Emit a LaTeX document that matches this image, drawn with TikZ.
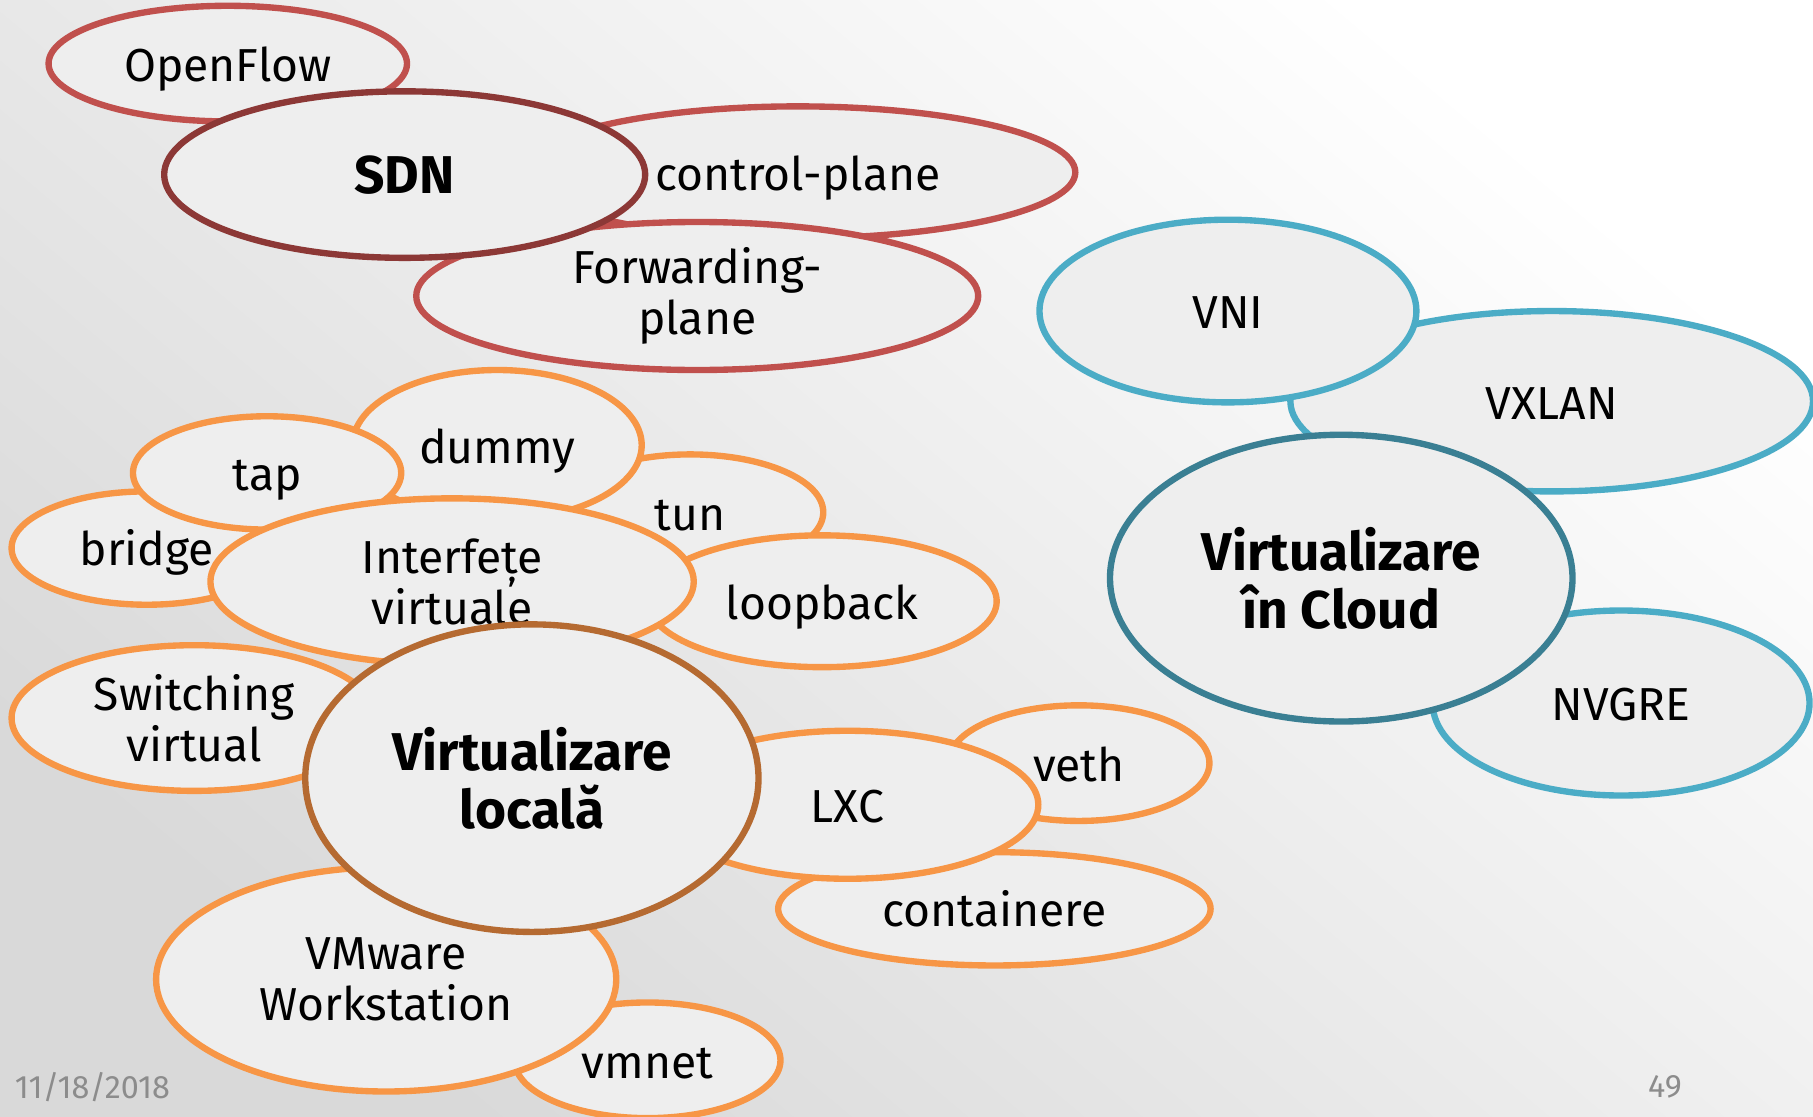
\documentclass[tikz,border=0pt]{standalone}
\usepackage{fontspec}
\setmainfont{Fira Sans}
\usetikzlibrary{shapes.geometric}
\definecolor{cred}{HTML}{C0504D}
\definecolor{cdred}{HTML}{8C3836}
\definecolor{cblue}{HTML}{4BACC6}
\definecolor{cdblue}{HTML}{3A7F93}
\definecolor{corange}{HTML}{F79646}
\definecolor{cdorange}{HTML}{B56A31}
\definecolor{cfill}{HTML}{EEEEEE}
\definecolor{cdate}{HTML}{8C8C8C}
\tikzset{
  bubble/.style={ellipse, draw, fill=cfill, line width=5.5pt, inner sep=0pt, align=center,
    font=\fontsize{40}{44}\selectfont, text=black},
  redb/.style={bubble, draw=cred},
  blueb/.style={bubble, draw=cblue},
  orangeb/.style={bubble, draw=corange},
  oneline/.style={text height=31pt, text depth=0pt},
  mainb/.style={bubble, line width=5.5pt, font=\fontsize{46}{50}\selectfont\bfseries},
  footer/.style={text=cdate, font=\fontsize{28}{30}\selectfont, inner sep=0pt}
}
\begin{document}
\begin{tikzpicture}[x=1pt,y=-1pt]
\shade[shading=axis, top color=white, bottom color=black!15, shading angle=-40] (0,0) rectangle (1568,966);
\useasboundingbox (0,0) rectangle (1568,966);
% SDN group
\node[redb, oneline, minimum width=310pt, minimum height=100pt] (openflow) at (197,55) {OpenFlow};
\node[redb, oneline, minimum width=480pt, minimum height=114pt] (control) at (690,149) {control-plane};
\node[redb, minimum width=486pt, minimum height=128pt] (forward) at (603,256) {Forwarding-\\plane};
\node[mainb, draw=cdred, minimum width=416pt, minimum height=144pt] (sdn) at (350,151) {SDN};
% Cloud group
\node[blueb, oneline, minimum width=326pt, minimum height=160pt] (nvgre) at (1402,608) {NVGRE};
\node[blueb, oneline, minimum width=452pt, minimum height=156pt] (vxlan) at (1342,347) {VXLAN};
\node[blueb, oneline, minimum width=326pt, minimum height=158pt] (vni) at (1062,269) {VNI};
\node[mainb, draw=cdblue, minimum width=400pt, minimum height=248pt] (cloud) at (1160,500) {Virtualizare\\în Cloud};
% Local group
\node[orangeb, oneline, minimum width=230pt, minimum height=100pt] (tun) at (597,443) {tun};
\node[orangeb, oneline, minimum width=250pt, minimum height=130pt] (dummy) at (430,385) {dummy};
\node[orangeb, oneline, minimum width=234pt, minimum height=98pt] (bridge) at (127,474) {bridge};
\node[orangeb, oneline, minimum width=232pt, minimum height=98pt] (tap) at (231,409) {tap};
\node[orangeb, oneline, minimum width=302pt, minimum height=114pt] (loopback) at (711,520) {loopback};
\node[orangeb, minimum width=418pt, minimum height=144pt] (interf) at (391,503) {Interfețe\\virtuale};
\node[orangeb, minimum width=316pt, minimum height=126pt] (switch) at (168,621) {Switching\\virtual};
\node[orangeb, oneline, minimum width=230pt, minimum height=100pt] (vmnet) at (560,917) {vmnet};
\node[orangeb, minimum width=398pt, minimum height=194pt] (vmware) at (334,847) {VMware\\Workstation};
\node[orangeb, oneline, minimum width=374pt, minimum height=98pt] (cont) at (860,786) {containere};
\node[orangeb, oneline, minimum width=226pt, minimum height=100pt] (veth) at (933,660) {veth};
\node[orangeb, oneline, minimum width=330pt, minimum height=128pt] (lxc) at (733,696) {LXC};
\node[mainb, draw=cdorange, minimum width=392pt, minimum height=266pt] (local) at (460,673) {Virtualizare\\locală};
% footer
\node[footer] (date) at (80,940) {11/18/2018};
\node[footer] (page) at (1440,940) {49};
\end{tikzpicture}
\end{document}
